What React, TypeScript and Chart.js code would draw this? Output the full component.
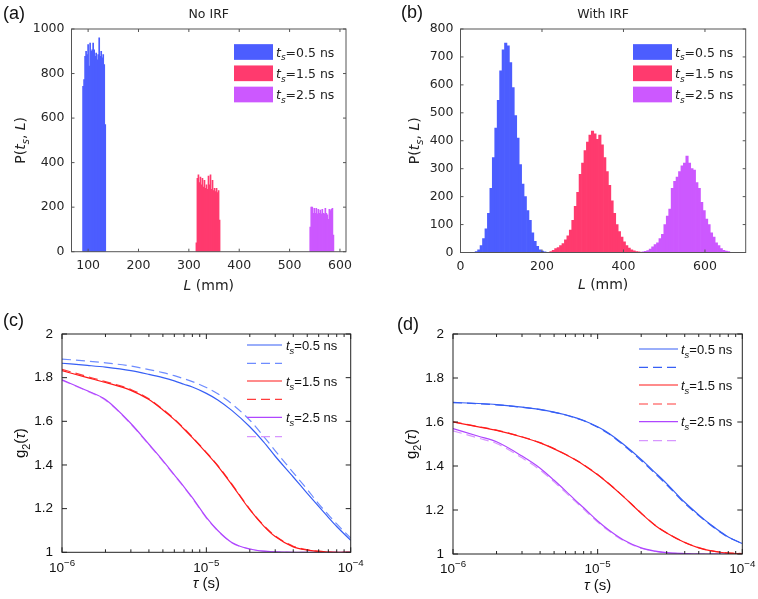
import React, { useEffect, useRef } from "react";
import { Chart, registerables } from "chart.js";
Chart.register(...registerables);

// ---------------- DATA ----------------
// (a) No IRF histograms: bin centres L (mm) and counts P
const aBlueL = [90, 92, 94, 96, 98, 100, 102, 104, 106, 108, 110, 112, 114, 116, 118, 120, 122, 124, 126, 128, 130, 132, 134];
const aBlueP = [743, 773, 877, 900, 885, 930, 833, 937, 900, 907, 937, 907, 877, 892, 862, 885, 960, 877, 900, 870, 885, 840, 571];
const aRedL = [315, 317, 319, 321, 323, 325, 327, 329, 331, 333, 335, 337, 339, 341, 343, 345, 347, 349, 351, 353, 355, 357, 359, 361];
const aRedP = [40, 330, 345, 310, 335, 300, 330, 290, 320, 285, 300, 280, 340, 300, 345, 280, 320, 275, 285, 270, 285, 265, 275, 142];
const aPurL = [541, 543, 545, 547, 549, 551, 553, 555, 557, 559, 561, 563, 565, 567, 569, 571, 573, 575, 577, 579, 581, 583, 585, 587];
const aPurP = [110, 200, 200, 172, 195, 172, 195, 170, 190, 172, 187, 170, 190, 172, 170, 195, 172, 165, 145, 190, 185, 190, 195, 75];
const aXTicks = [100, 200, 300, 400, 500, 600];
const aYTicks = [0, 200, 400, 600, 800, 1000];

// (b) With IRF histograms
const bBlueL = [39, 45, 51, 57, 63, 69, 75, 81, 87, 93, 99, 105, 111, 117, 123, 129, 135, 141, 147, 153, 159, 165, 171, 177, 183, 189, 195, 201, 207];
const bBlueP = [3, 10, 25, 50, 85, 140, 230, 340, 445, 545, 650, 725, 750, 740, 680, 590, 490, 410, 315, 245, 200, 150, 115, 70, 40, 22, 10, 5, 2];
const bRedL = [222, 228, 234, 240, 246, 252, 258, 264, 270, 276, 282, 288, 294, 300, 306, 312, 318, 324, 330, 336, 342, 348, 354, 360, 366, 372, 378, 384, 390, 396, 402, 408, 414, 420, 426, 432, 438];
const bRedP = [3, 8, 14, 18, 25, 32, 45, 60, 80, 115, 165, 215, 280, 320, 365, 395, 420, 435, 425, 405, 420, 385, 340, 290, 240, 185, 140, 100, 75, 55, 38, 25, 16, 10, 6, 3, 2];
const bPurL = [448, 454, 460, 466, 472, 478, 484, 490, 496, 502, 508, 514, 520, 526, 532, 538, 544, 550, 556, 562, 568, 574, 580, 586, 592, 598, 604, 610, 616, 622, 628, 634, 640, 646, 652, 658];
const bPurP = [2, 4, 7, 12, 20, 28, 35, 50, 65, 100, 130, 155, 230, 255, 270, 290, 310, 320, 345, 320, 300, 295, 250, 230, 180, 150, 120, 100, 70, 55, 35, 25, 14, 8, 5, 3];
const bXTicks = [0, 200, 400, 600];
const bYTicks = [0, 100, 200, 300, 400, 500, 600, 700, 800];

// (c),(d) g2(tau) curves
const tau = [1e-6, 1.5e-6, 2e-6, 3e-6, 4e-6, 5e-6, 6e-6, 7e-6, 8e-6, 1e-5, 1.2e-5, 1.5e-5, 2e-5, 2.5e-5, 3e-5, 4e-5, 5e-5, 6e-5, 7e-5, 8e-5, 1e-4];
const cBlueS = [1.866, 1.856, 1.848, 1.832, 1.815, 1.8, 1.785, 1.77, 1.757, 1.728, 1.698, 1.65, 1.575, 1.505, 1.44, 1.345, 1.27, 1.21, 1.16, 1.118, 1.055];
const cBlueD = [1.885, 1.876, 1.868, 1.853, 1.837, 1.823, 1.809, 1.795, 1.782, 1.755, 1.726, 1.68, 1.605, 1.53, 1.465, 1.365, 1.288, 1.222, 1.172, 1.13, 1.065];
const cRedS = [1.832, 1.8, 1.778, 1.742, 1.7, 1.652, 1.608, 1.565, 1.525, 1.455, 1.395, 1.31, 1.195, 1.12, 1.072, 1.025, 1.01, 1.004, 1.001, 1.0, 1.0];
const cRedD = [1.838, 1.805, 1.782, 1.746, 1.703, 1.655, 1.611, 1.568, 1.528, 1.458, 1.398, 1.313, 1.198, 1.123, 1.075, 1.028, 1.012, 1.005, 1.002, 1.0, 1.0];
const cPurS = [1.79, 1.74, 1.7, 1.59, 1.495, 1.42, 1.355, 1.3, 1.25, 1.16, 1.1, 1.045, 1.015, 1.005, 1.002, 1.0, 1.0, 1.0, 1.0, 1.0, 1.0];
const cPurD = [1.788, 1.738, 1.697, 1.587, 1.492, 1.417, 1.352, 1.297, 1.247, 1.157, 1.098, 1.044, 1.015, 1.005, 1.002, 1.0, 1.0, 1.0, 1.0, 1.0, 1.0];
const dBlueS = [1.689, 1.684, 1.679, 1.668, 1.657, 1.645, 1.633, 1.62, 1.607, 1.578, 1.548, 1.5, 1.43, 1.37, 1.32, 1.235, 1.178, 1.135, 1.103, 1.077, 1.048];
const dBlueD = [1.688, 1.683, 1.678, 1.667, 1.656, 1.644, 1.632, 1.619, 1.606, 1.576, 1.545, 1.496, 1.425, 1.365, 1.315, 1.23, 1.175, 1.133, 1.1, 1.076, 1.048];
const dRedS = [1.6, 1.578, 1.562, 1.532, 1.505, 1.478, 1.452, 1.428, 1.405, 1.36, 1.318, 1.262, 1.185, 1.13, 1.095, 1.052, 1.028, 1.015, 1.008, 1.004, 1.001];
const dRedD = [1.601, 1.579, 1.563, 1.533, 1.506, 1.479, 1.453, 1.429, 1.406, 1.361, 1.319, 1.263, 1.186, 1.131, 1.096, 1.053, 1.029, 1.016, 1.009, 1.005, 1.002];
const dPurS = [1.57, 1.535, 1.51, 1.445, 1.39, 1.335, 1.287, 1.245, 1.21, 1.15, 1.108, 1.065, 1.028, 1.013, 1.006, 1.002, 1.0, 1.0, 1.0, 1.0, 1.0];
const dPurD = [1.56, 1.527, 1.502, 1.437, 1.382, 1.328, 1.28, 1.239, 1.204, 1.145, 1.104, 1.062, 1.026, 1.012, 1.005, 1.002, 1.0, 1.0, 1.0, 1.0, 1.0];
const gYTicks = [1, 1.2, 1.4, 1.6, 1.8, 2];
const gYLabels = ["1", "1.2", "1.4", "1.6", "1.8", "2"];
const logMajor = [1e-6, 1e-5, 1e-4];
const logMajorExp = ["\u22126", "\u22125", "\u22124"];
const logMinor = [2e-6, 3e-6, 4e-6, 5e-6, 6e-6, 7e-6, 8e-6, 9e-6, 2e-5, 3e-5, 4e-5, 5e-5, 6e-5, 7e-5, 8e-5, 9e-5];
const tsValues = ["0.5", "1.5", "2.5"];

// ---------------- STYLE ----------------
const HBLUE = "rgb(76,93,255)";
const HRED = "rgb(255,58,110)";
const HPUR = "rgb(204,88,255)";
const LBLUE = "rgb(55,95,245)";
const LBLUE_D = "rgb(110,140,255)";
const LRED = "rgb(255,25,25)";
const LRED_D = "rgb(255,60,60)";
const LPUR = "rgb(175,70,255)";
const LPUR_D = "rgb(215,150,255)";
const DASH = [9, 5];

const DJ = '"DejaVu Sans"';
const LS = '"Liberation Sans"';

type Part = { t: string; it?: boolean; sub?: boolean; sup?: boolean };

function drawRich(
  ctx: CanvasRenderingContext2D,
  parts: Part[],
  x: number,
  yc: number,
  size: number,
  family: string,
  align: "left" | "center" | "right",
  color: string
) {
  let w = 0;
  const items = parts.map((p) => {
    const s = p.sub || p.sup ? size * 0.72 : size;
    const font = `${p.it ? "italic " : ""}${s}px ${family}`;
    ctx.font = font;
    const m = ctx.measureText(p.t).width;
    const it = { p, font, x: w };
    w += m;
    return it;
  });
  const x0 = align === "left" ? x : align === "center" ? x - w / 2 : x - w;
  const base = yc + size * 0.36;
  ctx.save();
  ctx.fillStyle = color;
  ctx.textBaseline = "alphabetic";
  ctx.textAlign = "left";
  for (const it of items) {
    ctx.font = it.font;
    const dy = it.p.sub ? size * 0.3 : it.p.sup ? -size * 0.42 : 0;
    ctx.fillText(it.p.t, x0 + it.x, base + dy);
  }
  ctx.restore();
}

const tsParts = (v: string): Part[] => [
  { t: "t", it: true },
  { t: "s", it: true, sub: true },
  { t: "=" + v + " ns" },
];

interface LegendRow { color: string; dash?: number[]; label?: string }
interface Decor {
  axisColor: string;
  textColor: string;
  family: string;
  tickLen: number;
  minorLen: number;
  xMajor: number[];
  xMinor: number[];
  yMajor: number[];
  panel: string;
  panelX: number;
  panelY: number;
  title?: string;
  titleY: number;
  titleSize: number;
  xTitle: Part[];
  xTitleY: number;
  yTitle: Part[];
  yTitleX: number;
  axisTitleSize: number;
  logLabels: boolean;
  logLabelY: number;
  tickSize: number;
  legendKind: "box" | "line";
  legend: LegendRow[];
  legX0: number;
  legX1: number;
  legTextX: number;
  legRowsY: number[];
  legBoxH: number;
  legSize: number;
}

function decorPlugin(d: Decor) {
  return {
    id: "decor",
    afterDraw(chart: any) {
      const ctx: CanvasRenderingContext2D = chart.ctx;
      const ca = chart.chartArea;
      const xs = chart.scales.x;
      const ys = chart.scales.y;
      ctx.save();
      ctx.strokeStyle = d.axisColor;
      ctx.lineWidth = 1;
      ctx.setLineDash([]);
      ctx.strokeRect(ca.left, ca.top, ca.right - ca.left, ca.bottom - ca.top);
      ctx.beginPath();
      for (const v of d.xMajor) {
        const px = xs.getPixelForValue(v);
        ctx.moveTo(px, ca.bottom);
        ctx.lineTo(px, ca.bottom - d.tickLen);
        ctx.moveTo(px, ca.top);
        ctx.lineTo(px, ca.top + d.tickLen);
      }
      for (const v of d.xMinor) {
        const px = xs.getPixelForValue(v);
        ctx.moveTo(px, ca.bottom);
        ctx.lineTo(px, ca.bottom - d.minorLen);
        ctx.moveTo(px, ca.top);
        ctx.lineTo(px, ca.top + d.minorLen);
      }
      for (const v of d.yMajor) {
        const py = ys.getPixelForValue(v);
        ctx.moveTo(ca.left, py);
        ctx.lineTo(ca.left + d.tickLen, py);
        ctx.moveTo(ca.right, py);
        ctx.lineTo(ca.right - d.tickLen, py);
      }
      ctx.stroke();

      if (d.logLabels) {
        logMajor.forEach((v, i) => {
          const px = xs.getPixelForValue(v);
          drawRich(ctx, [{ t: "10" }, { t: logMajorExp[i], sup: true }], px, d.logLabelY, d.tickSize, d.family, "center", d.textColor);
        });
      }

      // panel label
      ctx.fillStyle = "#111";
      ctx.font = `18px ${LS}`;
      ctx.textBaseline = "middle";
      ctx.textAlign = "left";
      ctx.fillText(d.panel, d.panelX, d.panelY);

      if (d.title) {
        ctx.font = `${d.titleSize}px ${d.family}`;
        ctx.fillStyle = d.textColor;
        ctx.textAlign = "center";
        ctx.fillText(d.title, (ca.left + ca.right) / 2, d.titleY);
      }
      drawRich(ctx, d.xTitle, (ca.left + ca.right) / 2, d.xTitleY, d.axisTitleSize, d.family, "center", d.textColor);
      ctx.save();
      ctx.translate(d.yTitleX, (ca.top + ca.bottom) / 2);
      ctx.rotate(-Math.PI / 2);
      drawRich(ctx, d.yTitle, 0, 0, d.axisTitleSize, d.family, "center", d.textColor);
      ctx.restore();

      // legend
      d.legend.forEach((row, i) => {
        const yc = d.legRowsY[i];
        if (d.legendKind === "box") {
          ctx.fillStyle = row.color;
          ctx.fillRect(d.legX0, yc - d.legBoxH / 2, d.legX1 - d.legX0, d.legBoxH);
        } else {
          ctx.strokeStyle = row.color;
          ctx.lineWidth = 1.2;
          ctx.setLineDash(row.dash || []);
          ctx.beginPath();
          ctx.moveTo(d.legX0, yc);
          ctx.lineTo(d.legX1, yc);
          ctx.stroke();
          ctx.setLineDash([]);
        }
        if (row.label) drawRich(ctx, tsParts(row.label), d.legTextX, yc, d.legSize, d.family, "left", d.textColor);
      });
      ctx.restore();
    },
  };
}

interface Frame { top: number; right: number; yW: number; xH: number }

function histConfig(
  series: { L: number[]; P: number[]; color: string }[],
  xMin: number,
  xMax: number,
  yMax: number,
  xTicks: number[],
  yTicks: number[],
  f: Frame,
  d: Decor
): any {
  return {
    type: "bar",
    data: {
      datasets: series.map((s) => ({
        data: s.L.map((x, i) => ({ x, y: s.P[i] })),
        backgroundColor: s.color,
        borderWidth: 0,
        barPercentage: 1,
        categoryPercentage: 1,
        grouped: false,
      })),
    },
    options: {
      responsive: false,
      animation: false,
      events: [],
      layout: { padding: { left: 0, top: f.top, right: f.right, bottom: 0 } },
      plugins: { legend: { display: false }, tooltip: { enabled: false } },
      scales: {
        x: {
          type: "linear",
          min: xMin,
          max: xMax,
          offset: false,
          grid: { display: false, drawTicks: false },
          border: { display: false },
          afterBuildTicks: (s: any) => { s.ticks = xTicks.map((v) => ({ value: v })); },
          afterFit: (s: any) => { s.height = f.xH; s.paddingLeft = 0; s.paddingRight = 0; },
          ticks: { font: { family: DJ, size: 12.5 }, color: "#262626", padding: 7, maxRotation: 0, autoSkip: false, callback: (v: any) => String(v) },
        },
        y: {
          type: "linear",
          min: 0,
          max: yMax,
          grid: { display: false, drawTicks: false },
          border: { display: false },
          afterBuildTicks: (s: any) => { s.ticks = yTicks.map((v) => ({ value: v })); },
          afterFit: (s: any) => { s.width = f.yW; s.paddingTop = 0; s.paddingBottom = 0; },
          ticks: { font: { family: DJ, size: 12.5 }, color: "#262626", padding: 7, autoSkip: false, callback: (v: any) => String(v) },
        },
      },
    },
    plugins: [decorPlugin(d)],
  };
}

function g2Config(
  series: { y: number[]; color: string; dash?: number[] }[],
  f: Frame,
  d: Decor
): any {
  return {
    type: "line",
    data: {
      datasets: series.map((s) => ({
        data: tau.map((t, i) => ({ x: t, y: s.y[i] })),
        borderColor: s.color,
        borderWidth: 1.2,
        borderDash: s.dash || [],
        pointRadius: 0,
        fill: false,
        cubicInterpolationMode: "monotone",
      })),
    },
    options: {
      responsive: false,
      animation: false,
      events: [],
      layout: { padding: { left: 0, top: f.top, right: f.right, bottom: 0 } },
      plugins: { legend: { display: false }, tooltip: { enabled: false } },
      scales: {
        x: {
          type: "logarithmic",
          min: 1e-6,
          max: 1e-4,
          offset: false,
          grid: { display: false, drawTicks: false },
          border: { display: false },
          afterBuildTicks: (s: any) => { s.ticks = logMajor.map((v) => ({ value: v })); },
          afterFit: (s: any) => { s.height = f.xH; s.paddingLeft = 0; s.paddingRight = 0; },
          ticks: { display: false },
        },
        y: {
          type: "linear",
          min: 1,
          max: 2,
          grid: { display: false, drawTicks: false },
          border: { display: false },
          afterBuildTicks: (s: any) => { s.ticks = gYTicks.map((v) => ({ value: v })); },
          afterFit: (s: any) => { s.width = f.yW; s.paddingTop = 0; s.paddingBottom = 0; },
          ticks: { font: { family: LS, size: 13.5 }, color: "#111", padding: 9, autoSkip: false, callback: (_v: any, i: number) => gYLabels[i] },
        },
      },
    },
    plugins: [decorPlugin(d)],
  };
}

const histLegend: LegendRow[] = [
  { color: HBLUE, label: tsValues[0] },
  { color: HRED, label: tsValues[1] },
  { color: HPUR, label: tsValues[2] },
];

const baseHist = {
  axisColor: "#555",
  textColor: "#222",
  family: DJ,
  tickLen: 3,
  minorLen: 0,
  xMinor: [] as number[],
  titleY: 15,
  titleSize: 12.5,
  axisTitleSize: 14,
  logLabels: false,
  logLabelY: 0,
  tickSize: 12.5,
  legendKind: "box" as const,
  legend: histLegend,
  legRowsY: [52, 73.3, 94.5],
  legBoxH: 15.7,
  legSize: 12.5,
};

const decorA: Decor = {
  ...baseHist,
  xMajor: aXTicks,
  yMajor: aYTicks,
  panel: "(a)",
  panelX: 3,
  panelY: 14.5,
  title: "No IRF",
  xTitle: [{ t: "L", it: true }, { t: " (mm)" }],
  xTitleY: 285,
  yTitle: [{ t: "P(" }, { t: "t", it: true }, { t: "s", it: true, sub: true }, { t: ", " }, { t: "L", it: true }, { t: ")" }],
  yTitleX: 20,
  legX0: 234,
  legX1: 273,
  legTextX: 276,
};

const decorB: Decor = {
  ...baseHist,
  xMajor: bXTicks,
  yMajor: bYTicks,
  panel: "(b)",
  panelX: 22,
  panelY: 13.5,
  title: "With IRF",
  xTitle: [{ t: "L", it: true }, { t: " (mm)" }],
  xTitleY: 284,
  yTitle: [{ t: "P(" }, { t: "t", it: true }, { t: "s", it: true, sub: true }, { t: ", " }, { t: "L", it: true }, { t: ")" }],
  yTitleX: 35,
  legX0: 254,
  legX1: 293,
  legTextX: 296,
};

const baseG2 = {
  axisColor: "#222",
  textColor: "#111",
  family: LS,
  tickLen: 5,
  minorLen: 3,
  xMinor: logMinor,
  xMajor: logMajor,
  yMajor: gYTicks,
  titleY: 0,
  titleSize: 13,
  axisTitleSize: 15,
  logLabels: true,
  tickSize: 13.5,
  legendKind: "line" as const,
  legBoxH: 0,
  legSize: 13,
  xTitle: [{ t: "\u03c4", it: true }, { t: " (s)" }] as Part[],
  yTitle: [{ t: "g" }, { t: "2", sub: true }, { t: "(" }, { t: "\u03c4", it: true }, { t: ")" }] as Part[],
};

const decorC: Decor = {
  ...baseG2,
  panel: "(c)",
  panelX: 3,
  panelY: 21,
  xTitleY: 283,
  yTitleX: 20,
  logLabelY: 267,
  legend: [
    { color: LBLUE, label: tsValues[0] },
    { color: LBLUE_D, dash: DASH },
    { color: LRED, label: tsValues[1] },
    { color: LRED_D, dash: DASH },
    { color: LPUR, label: tsValues[2] },
    { color: LPUR_D, dash: DASH },
  ],
  legX0: 247,
  legX1: 282,
  legTextX: 286,
  legRowsY: [45, 63.3, 81, 99.3, 117.3, 136.7],
};

const decorD: Decor = {
  ...baseG2,
  panel: "(d)",
  panelX: 18,
  panelY: 25,
  xTitleY: 285,
  yTitleX: 32,
  logLabelY: 268,
  legend: [
    { color: LBLUE, label: tsValues[0] },
    { color: LBLUE, dash: DASH },
    { color: LRED, label: tsValues[1] },
    { color: LRED_D, dash: DASH },
    { color: LPUR, label: tsValues[2] },
    { color: LPUR_D, dash: DASH },
  ],
  legX0: 260,
  legX1: 299,
  legTextX: 302,
  legRowsY: [49, 67.3, 85, 104, 121.7, 140.7],
};

export default function App() {
  const refA = useRef<HTMLCanvasElement>(null);
  const refB = useRef<HTMLCanvasElement>(null);
  const refC = useRef<HTMLCanvasElement>(null);
  const refD = useRef<HTMLCanvasElement>(null);

  useEffect(() => {
    const charts: Chart[] = [];
    charts.push(
      new Chart(
        refA.current!,
        histConfig(
          [
            { L: aBlueL, P: aBlueP, color: HBLUE },
            { L: aRedL, P: aRedP, color: HRED },
            { L: aPurL, P: aPurP, color: HPUR },
          ],
          67, 612, 1000, aXTicks, aYTicks,
          { top: 29, right: 33, yW: 71.5, xH: 48.3 },
          decorA
        )
      )
    );
    charts.push(
      new Chart(
        refB.current!,
        histConfig(
          [
            { L: bBlueL, P: bBlueP, color: HBLUE },
            { L: bRedL, P: bRedP, color: HRED },
            { L: bPurL, P: bPurP, color: HPUR },
          ],
          0, 700, 800, bXTicks, bYTicks,
          { top: 29, right: 12.3, yW: 81.5, xH: 47.5 },
          decorB
        )
      )
    );
    charts.push(
      new Chart(
        refC.current!,
        g2Config(
          [
            { y: cBlueS, color: LBLUE },
            { y: cBlueD, color: LBLUE_D, dash: DASH },
            { y: cRedS, color: LRED },
            { y: cRedD, color: LRED_D, dash: DASH },
            { y: cPurS, color: LPUR },
            { y: cPurD, color: LPUR_D, dash: DASH },
          ],
          { top: 34, right: 28.3, yW: 62, xH: 46.7 },
          decorC
        )
      )
    );
    charts.push(
      new Chart(
        refD.current!,
        g2Config(
          [
            { y: dBlueS, color: LBLUE },
            { y: dBlueD, color: LBLUE, dash: DASH },
            { y: dRedS, color: LRED },
            { y: dRedD, color: LRED_D, dash: DASH },
            { y: dPurS, color: LPUR },
            { y: dPurD, color: LPUR_D, dash: DASH },
          ],
          { top: 34, right: 15.7, yW: 74, xH: 45 },
          decorD
        )
      )
    );
    return () => charts.forEach((c) => c.destroy());
  }, []);

  const cs: React.CSSProperties = { position: "absolute", display: "block" };
  return (
    <div style={{ position: "absolute", left: 0, top: 0, width: 758, height: 599, background: "#fff", overflow: "hidden" }}>
      <canvas ref={refA} width={379} height={300} style={{ ...cs, left: 0, top: 0 }} />
      <canvas ref={refB} width={379} height={300} style={{ ...cs, left: 379, top: 0 }} />
      <canvas ref={refC} width={379} height={299} style={{ ...cs, left: 0, top: 300 }} />
      <canvas ref={refD} width={379} height={299} style={{ ...cs, left: 379, top: 300 }} />
    </div>
  );
}
